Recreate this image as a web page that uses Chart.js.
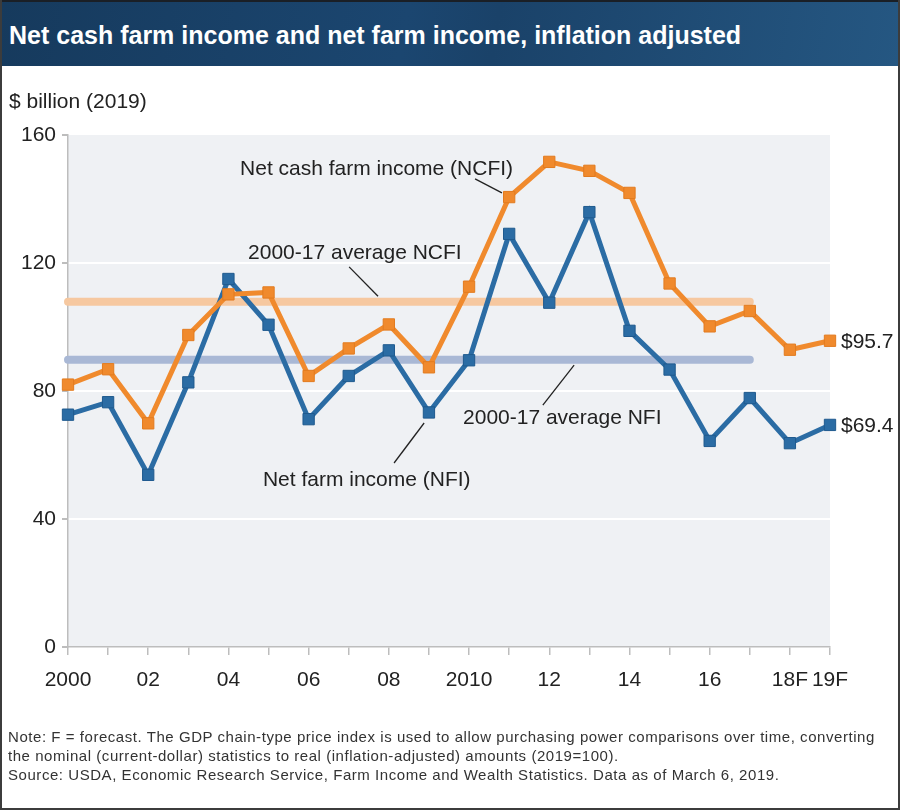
<!DOCTYPE html>
<html>
<head>
<meta charset="utf-8">
<script src="https://cdn.jsdelivr.net/npm/chart.js@4"></script>
<style>
    html, body { margin: 0; padding: 0; background: #fff; }
    #frame { position: relative; width: 900px; height: 810px; overflow: hidden; font-family: "Liberation Sans", Arial, sans-serif; }
    #titlebar { position: absolute; left: 0; top: 0; width: 900px; height: 66px; border-top: 2px solid #1a1f26; box-sizing: border-box;
        background: linear-gradient(100deg, #163a5d 0%, #1b4670 45%, #1a4269 55%, #255782 100%); z-index: 2; }
    #title { position: absolute; left: 9px; top: 18px; line-height: 30px; font-size: 25px; font-weight: bold; color: #fff; white-space: nowrap; }
    #unit { position: absolute; left: 9px; top: 89px; line-height: 24px; font-size: 21px; color: #222; z-index: 2; }
    #note { position: absolute; left: 8px; top: 727px; line-height: 19px; font-size: 15px; letter-spacing: 0.55px; color: #333; z-index: 2; white-space: nowrap; }
    #chartbox { position: absolute; left: 0; top: 0; width: 900px; height: 810px; z-index: 1; }
    #edge { position: absolute; left: 0; top: 0; width: 900px; height: 810px; box-sizing: border-box; border: 2px solid #3c3c3c; border-top: none; z-index: 3; pointer-events: none; }
</style>
</head>
<body>
<div id="frame">
    <div id="titlebar"><div id="title">Net cash farm income and net farm income, inflation adjusted</div></div>
    <div id="unit">$ billion (2019)</div>
    <div id="chartbox"><canvas id="income-chart"></canvas></div>
    <div id="note">Note: F = forecast. The GDP chain-type price index is used to allow purchasing power comparisons over time, converting<br>the nominal (current-dollar) statistics to real (inflation-adjusted) amounts (2019=100).<br>Source: USDA, Economic Research Service, Farm Income and Wealth Statistics. Data as of March 6, 2019.</div>
    <div id="edge"></div>
</div>
<script>
// Values, $ billion (2019 dollars)
const YEARS = ['2000', '2001', '2002', '2003', '2004', '2005', '2006', '2007', '2008', '2009',
               '2010', '2011', '2012', '2013', '2014', '2015', '2016', '2017', '2018F', '2019F'];
const TICK_LABELS = ['2000', '', '02', '', '04', '', '06', '', '08', '',
                     '2010', '', '12', '', '14', '', '16', '', '18F', '19F'];
const NCFI = [82.0, 86.8, 69.9, 97.5, 110.2, 110.8, 84.7, 93.3, 100.8, 87.4,
              112.6, 140.6, 151.6, 148.8, 141.9, 113.6, 100.2, 105.0, 92.9, 95.7];
const NFI = [72.6, 76.5, 53.8, 82.7, 115.0, 100.7, 71.2, 84.7, 92.7, 73.3,
             89.6, 129.1, 107.6, 135.9, 98.8, 86.7, 64.4, 77.8, 63.7, 69.4];
const AVG_NCFI = 107.9;   // 2000-17 average
const AVG_NFI = 89.8;
const Y_TICKS = [0, 40, 80, 120, 160];

const avgNcfiData = YEARS.map((y, i) => i <= 17 ? AVG_NCFI : null);
const avgNfiData = YEARS.map((y, i) => i <= 17 ? AVG_NFI : null);

// callouts, placed in data units (x = category index, y = $ billion)
const CALLOUTS = [
    { text: 'Net cash farm income (NCFI)', at: [4.29, 147.5], line: [[10.15, 146.3], [10.82, 141.9]] },
    { text: '2000-17 average NCFI', at: [4.49, 121.3], line: [[7.01, 118.8], [7.73, 109.6]] },
    { text: '2000-17 average NFI', at: [9.85, 69.7], line: [[11.84, 75.6], [12.62, 88.1]] },
    { text: 'Net farm income (NFI)', at: [4.86, 50.3], line: [[8.13, 57.5], [8.88, 70.0]] }
];

const FONT = '"Liberation Sans", Arial, sans-serif';

const plotBackground = {
    id: 'plotBackground',
    beforeDraw(chart) {
        const { ctx, chartArea: a } = chart;
        ctx.save();
        ctx.fillStyle = '#eff1f4';
        ctx.fillRect(a.left, a.top, a.right - a.left, a.bottom - a.top);
        ctx.restore();
    }
};

const callouts = {
    id: 'callouts',
    afterDatasetsDraw(chart) {
        const { ctx, scales: { x, y } } = chart;
        const px = v => x.left + (x.right - x.left) * v / (YEARS.length - 1);
        ctx.save();
        ctx.font = '21px ' + FONT;
        ctx.fillStyle = '#222';
        ctx.textBaseline = 'alphabetic';
        ctx.strokeStyle = '#222';
        ctx.lineWidth = 1.3;
        CALLOUTS.forEach(c => {
            ctx.fillText(c.text, px(c.at[0]), y.getPixelForValue(c.at[1]));
            ctx.beginPath();
            ctx.moveTo(px(c.line[0][0]), y.getPixelForValue(c.line[0][1]));
            ctx.lineTo(px(c.line[1][0]), y.getPixelForValue(c.line[1][1]));
            ctx.stroke();
        });
        // end-of-series values
        ctx.textBaseline = 'middle';
        const last = YEARS.length - 1;
        ctx.fillText('$' + NCFI[last].toFixed(1), x.getPixelForValue(last) + 11, y.getPixelForValue(NCFI[last]) + 1);
        ctx.fillText('$' + NFI[last].toFixed(1), x.getPixelForValue(last) + 11, y.getPixelForValue(NFI[last]) + 1);
        ctx.restore();
    }
};

const canvas = document.getElementById('income-chart');

const incomeChart = new Chart(canvas, {
    type: 'line',
    data: {
        labels: YEARS,
        datasets: [
            {
                label: 'Net cash farm income (NCFI)',
                data: NCFI,
                borderColor: '#f08a2d',
                backgroundColor: '#f08a2d',
                borderWidth: 5,
                tension: 0,
                pointStyle: 'rect',
                pointRadius: 8,
                pointBackgroundColor: '#f08a2d',
                pointBorderColor: '#e27b1f',
                pointBorderWidth: 1
            },
            {
                label: 'Net farm income (NFI)',
                data: NFI,
                borderColor: '#2b6ca4',
                backgroundColor: '#2b6ca4',
                borderWidth: 5,
                tension: 0,
                pointStyle: 'rect',
                pointRadius: 8,
                pointBackgroundColor: '#2b6ca4',
                pointBorderColor: '#1f5a8e',
                pointBorderWidth: 1
            },
            {
                label: '2000-17 average NCFI',
                data: avgNcfiData,
                borderColor: '#f6c8a0',
                borderWidth: 8,
                borderCapStyle: 'round',
                pointRadius: 0,
                spanGaps: false
            },
            {
                label: '2000-17 average NFI',
                data: avgNfiData,
                borderColor: '#a9b8d5',
                borderWidth: 8,
                borderCapStyle: 'round',
                pointRadius: 0,
                spanGaps: false
            }
        ]
    },
    options: {
        responsive: true,
        maintainAspectRatio: false,
        animation: false,
        layout: {
            padding: { left: 0, right: 70, top: 135, bottom: 100 }
        },
        plugins: {
            legend: { display: false },
            tooltip: { enabled: false }
        },
        scales: {
            x: {
                offset: false,
                afterFit: scale => { scale.height = 63; },
                ticks: {
                    autoSkip: false,
                    maxRotation: 0,
                    padding: 13,
                    color: '#222',
                    font: { family: FONT, size: 21 },
                    callback: (val, i) => TICK_LABELS[i]
                },
                grid: {
                    drawOnChartArea: false,
                    drawTicks: true,
                    tickLength: 8,
                    color: '#bdbdbd',
                    lineWidth: 1.5
                },
                border: { color: '#bdbdbd', width: 1.5 }
            },
            y: {
                min: 0,
                max: 160,
                afterFit: scale => { scale.width = 68; },
                afterBuildTicks: scale => { scale.ticks = Y_TICKS.map(v => ({ value: v })); },
                ticks: {
                    padding: 6,
                    color: '#222',
                    font: { family: FONT, size: 21 }
                },
                grid: {
                    drawTicks: true,
                    tickLength: 6,
                    tickColor: '#bdbdbd',
                    lineWidth: 2,
                    color: ctx => (ctx.tick && (ctx.tick.value === 0 || ctx.tick.value === 160)) ? 'rgba(0,0,0,0)' : '#ffffff'
                },
                border: { color: '#bdbdbd', width: 1.5 }
            }
        }
    },
    plugins: [plotBackground, callouts]
});
</script>
</body>
</html>
